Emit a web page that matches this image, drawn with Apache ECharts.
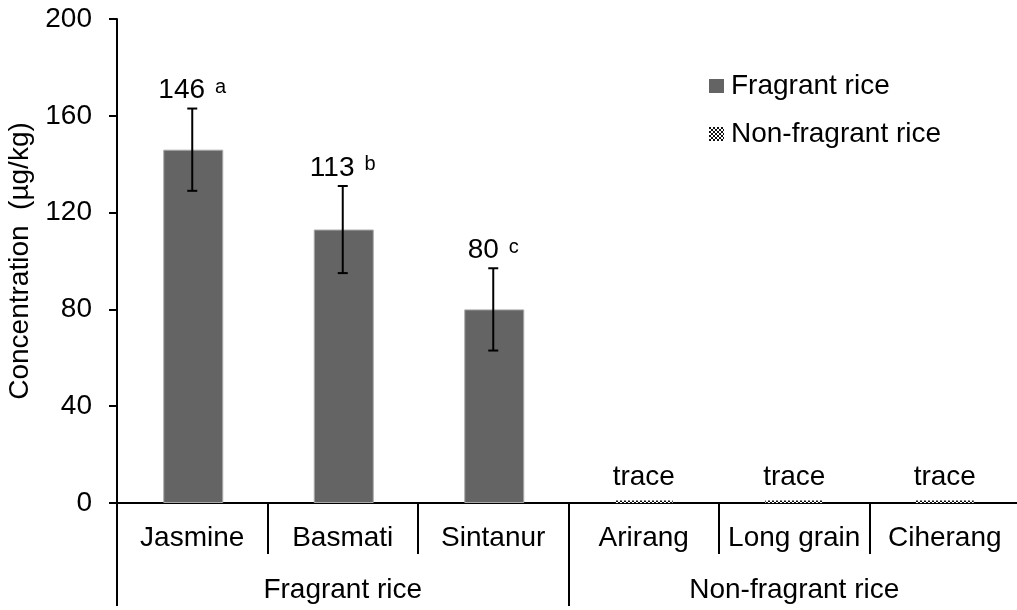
<!DOCTYPE html>
<html>
<head>
<meta charset="utf-8">
<script src="https://cdn.jsdelivr.net/npm/echarts@6/dist/echarts.min.js"></script>
<style>
html,body{margin:0;padding:0;background:#fff;}
#c{width:1017px;height:610px;}
</style>
</head>
<body>
<div id="c"></div>
<script>
// ---- data ----
const categories = ['Jasmine', 'Basmati', 'Sintanur', 'Arirang', 'Long grain', 'Ciherang'];
const groups = ['Fragrant rice', 'Non-fragrant rice'];
const fragrantValues = [146, 113, 80, null, null, null];
const fragrantErrors = [17, 18, 17, null, null, null];
const fragrantLetters = ['a', 'b', 'c', null, null, null];
const traceValues = [null, null, null, 1, 1, 1];
const traceLabel = 'trace';
const yMin = 0, yMax = 200, yInterval = 40;
const yTitle = 'Concentration  (\u00b5g/kg)';

// ---- pattern for non-fragrant ----
const pc = document.createElement('canvas');
pc.width = 4; pc.height = 4;
const pctx = pc.getContext('2d');
pctx.fillStyle = '#ffffff'; pctx.fillRect(0, 0, 4, 4);
pctx.fillStyle = '#111111';
pctx.fillRect(0, 0, 2, 2); pctx.fillRect(2, 2, 2, 2);
const checker = { image: pc, repeat: 'repeat' };

const FONT = 'Liberation Sans, Arial, sans-serif';
const FS = 28;

const errData = [];
fragrantValues.forEach((v, i) => {
  if (v != null) errData.push([i, v - fragrantErrors[i], v + fragrantErrors[i], v, fragrantLetters[i]]);
});

const chart = echarts.init(document.getElementById('c'), null, { renderer: 'canvas' });
chart.setOption({
  animation: false,
  backgroundColor: '#ffffff',
  textStyle: { fontFamily: FONT },
  grid: { left: 117, right: -3, top: 19, bottom: 107, containLabel: false, outerBoundsMode: 'none' },
  legend: {
    orient: 'vertical',
    left: 704, top: 67,
    itemWidth: 15, itemHeight: 14,
    itemGap: 20,
    icon: 'rect',
    data: groups,
    itemStyle: { borderWidth: 0 },
    textStyle: { fontSize: FS, color: '#000', fontFamily: FONT, padding: [0, 0, 0, 2] }
  },
  xAxis: [
    {
      type: 'category',
      data: categories,
      position: 'bottom',
      axisLine: { show: true, lineStyle: { color: '#000', width: 2 } },
      axisTick: { show: true, interval: 0, alignWithLabel: false, length: 51, lineStyle: { color: '#000', width: 2 } },
      axisLabel: { interval: 0, margin: 21, fontSize: FS, color: '#000', fontFamily: FONT },
      splitLine: { show: false }
    },
    {
      type: 'category',
      data: groups,
      position: 'bottom',
      axisLine: { show: false },
      axisTick: { show: true, interval: 0, alignWithLabel: false, length: 103, lineStyle: { color: '#000', width: 2 } },
      axisLabel: { interval: 0, margin: 73, fontSize: FS, color: '#000', fontFamily: FONT },
      splitLine: { show: false }
    }
  ],
  yAxis: {
    type: 'value',
    min: yMin, max: yMax, interval: yInterval,
    name: yTitle,
    nameLocation: 'middle',
    nameGap: 80,
    nameTextStyle: { fontSize: 28, color: '#000', fontFamily: FONT },
    axisLine: { show: true, lineStyle: { color: '#000', width: 2 } },
    axisTick: { show: true, length: 8, lineStyle: { color: '#000', width: 2 } },
    axisLabel: { margin: 25, fontSize: FS, color: '#000', fontFamily: FONT },
    splitLine: { show: false }
  },
  series: [
    {
      name: groups[0],
      type: 'bar',
      xAxisIndex: 0,
      data: fragrantValues.map(v => v == null ? '-' : v),
      barWidth: 60,
      barGap: '-100%',
      itemStyle: { color: '#646464', borderColor: '#a8a8a8', borderWidth: 1 }
    },
    {
      name: groups[1],
      type: 'bar',
      xAxisIndex: 0,
      data: traceValues.map(v => v == null ? '-' : v),
      barWidth: 58,
      barGap: '-100%',
      itemStyle: { color: checker },
      label: {
        show: true, position: 'top', distance: 9,
        formatter: traceLabel,
        fontSize: FS, color: '#000', fontFamily: FONT
      }
    },
    {
      name: 'err',
      type: 'custom',
      xAxisIndex: 0,
      data: errData,
      encode: { x: 0, y: [1, 2] },
      z: 10,
      renderItem: function (params, api) {
        const idx = api.value(0);
        const lo = api.coord([idx, api.value(1)]);
        const hi = api.coord([idx, api.value(2)]);
        const mean = api.value(3);
        const letter = errData[params.dataIndex][4];
        const cap = 5;
        const ls = { stroke: '#000', lineWidth: 2 };
        return {
          type: 'group',
          children: [
            { type: 'line', shape: { x1: hi[0], y1: hi[1], x2: lo[0], y2: lo[1] }, style: ls },
            { type: 'line', shape: { x1: hi[0] - cap, y1: hi[1], x2: hi[0] + cap, y2: hi[1] }, style: ls },
            { type: 'line', shape: { x1: lo[0] - cap, y1: lo[1], x2: lo[0] + cap, y2: lo[1] }, style: ls },
            {
              type: 'text',
              x: hi[0], y: hi[1] - 3,
              style: {
                text: '{v|' + mean + '}{s|' + letter + '}',
                align: 'center', verticalAlign: 'bottom',
                rich: {
                  v: { fontSize: FS, fontFamily: FONT, fill: '#000', color: '#000', lineHeight: 30 },
                  s: { fontSize: 20, fontFamily: FONT, fill: '#000', color: '#000', verticalAlign: 'top', padding: [2, 0, 0, 10], lineHeight: 22 }
                }
              }
            }
          ]
        };
      }
    }
  ]
});
</script>
</body>
</html>
